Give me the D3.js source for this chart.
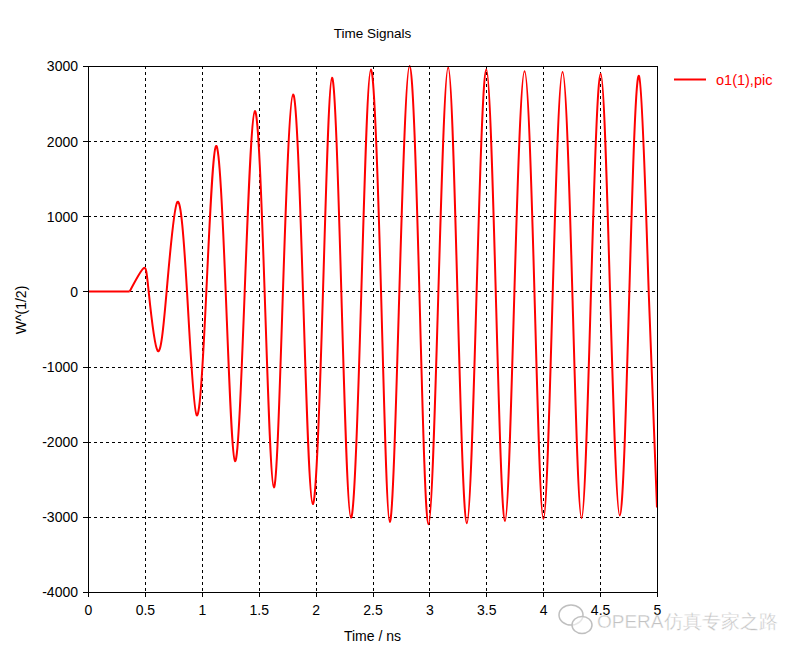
<!DOCTYPE html>
<html>
<head>
<meta charset="utf-8">
<script src="https://cdn.jsdelivr.net/npm/d3@7"></script>
<style>
  html, body { margin: 0; padding: 0; background: #ffffff; }
  svg { display: block; }
  text { font-family: "Liberation Sans", Arial, sans-serif; }
</style>
</head>
<body>
<script>
// ---------------- data ----------------
const title = "Time Signals";
const xLabel = "Time / ns";
const yLabel = "W^(1/2)";
const seriesName = "o1(1),pic";

const xTicks = [0, 0.5, 1, 1.5, 2, 2.5, 3, 3.5, 4, 4.5, 5];
const xTickLabels = ["0", "0.5", "1", "1.5", "2", "2.5", "3", "3.5", "4", "4.5", "5"];
const yTicks = [-4000, -3000, -2000, -1000, 0, 1000, 2000, 3000];
const yTickLabels = ["-4000", "-3000", "-2000", "-1000", "0", "1000", "2000", "3000"];

// time (ns) of the flat start, extrema and zero crossings
const timeNs = [
  0, 0.366,
  0.486, 0.533, 0.612, 0.691, 0.785, 0.870, 0.955, 1.040,
  1.125, 1.210, 1.292, 1.377, 1.466, 1.552, 1.633, 1.713,
  1.802, 1.889, 1.975, 2.065, 2.144, 2.226, 2.311, 2.402,
  2.486, 2.575, 2.652, 2.736, 2.826, 2.912, 2.992, 3.079,
  3.165, 3.246, 3.329, 3.415, 3.500, 3.583, 3.664, 3.747,
  3.836, 3.923, 4.002, 4.084, 4.170, 4.256, 4.337, 4.420,
  4.505, 4.587, 4.673, 4.757, 4.842, 4.927, 5.0
];
// signal value W^(1/2)
const signal = [
  0, 0,
  306, 0, -790, 0, 1190, 0, -1648, 0,
  1935, 0, -2258, 0, 2400, 0, -2608, 0,
  2622, 0, -2830, 0, 2845, 0, -3012, 0,
  2955, 0, -3070, 0, 3000, 0, -3100, 0,
  2980, 0, -3085, 0, 2955, 0, -3057, 0,
  2930, 0, -3030, 0, 2920, 0, -3017, 0,
  2898, 0, -2982, 0, 2867, 0, -2876
];
const onsetIndex = 1; // end of the flat baseline

// ---------------- layout ----------------
const W = 806, H = 653;
const plot = { left: 88, right: 657, top: 66, bottom: 592 };

const svg = d3.select("body").append("svg")
  .attr("width", W).attr("height", H)
  .attr("viewBox", `0 0 ${W} ${H}`);

const x = d3.scaleLinear().domain([0, 5]).range([plot.left, plot.right]);
const y = d3.scaleLinear().domain([-4000, 3000]).range([plot.bottom, plot.top]);

// ---------------- grid ----------------
const grid = svg.append("g").attr("shape-rendering", "crispEdges");
grid.selectAll("line.gx").data(xTicks.filter(d => d > 0 && d < 5)).enter()
  .append("line")
  .attr("x1", d => Math.round(x(d)) + 0.5).attr("x2", d => Math.round(x(d)) + 0.5)
  .attr("y1", plot.top).attr("y2", plot.bottom)
  .attr("stroke", "#000").attr("stroke-width", 1).attr("stroke-dasharray", "3,3");
grid.selectAll("line.gy").data(yTicks.filter(d => d > -4000 && d < 3000)).enter()
  .append("line")
  .attr("y1", d => Math.round(y(d)) + 0.5).attr("y2", d => Math.round(y(d)) + 0.5)
  .attr("x1", plot.left).attr("x2", plot.right)
  .attr("stroke", "#000").attr("stroke-width", 1).attr("stroke-dasharray", "3,3");

// ---------------- series ----------------
svg.append("clipPath").attr("id", "clip").append("rect")
  .attr("x", plot.left).attr("y", plot.top - 2)
  .attr("width", plot.right - plot.left + 1).attr("height", plot.bottom - plot.top + 4);

const pts = timeNs.map((t, i) => [t, signal[i]]);
const flatPts = pts.slice(0, onsetIndex + 1);
const wavePts = pts.slice(onsetIndex);

const lineLinear = d3.line().x(d => x(d[0])).y(d => y(d[1]));
const lineWave = d3.line().x(d => x(d[0])).y(d => y(d[1])).curve(d3.curveNatural);

const series = svg.append("g").attr("clip-path", "url(#clip)");
series.append("path").attr("d", lineLinear(flatPts))
  .attr("fill", "none").attr("stroke", "#ff0000").attr("stroke-width", 2);
series.append("path").attr("d", lineWave(wavePts))
  .attr("fill", "none").attr("stroke", "#ff0000").attr("stroke-width", 2)
  .attr("stroke-linejoin", "round");

// ---------------- axes & frame ----------------
const xAxis = d3.axisBottom(x).tickValues(xTicks)
  .tickFormat((d, i) => xTickLabels[i]).tickSizeInner(5).tickSizeOuter(0).tickPadding(8);
const yAxis = d3.axisLeft(y).tickValues(yTicks)
  .tickFormat((d, i) => yTickLabels[i]).tickSizeInner(5).tickSizeOuter(0).tickPadding(5);

const gx = svg.append("g").attr("transform", `translate(0,${plot.bottom})`).call(xAxis);
const gy = svg.append("g").attr("transform", `translate(${plot.left},0)`).call(yAxis);
[gx, gy].forEach(g => {
  g.selectAll("text").attr("font-family", "Liberation Sans, Arial, sans-serif")
    .attr("font-size", 14).attr("fill", "#000");
  g.selectAll("line").attr("stroke", "#000").attr("shape-rendering", "crispEdges");
  g.select(".domain").attr("stroke", "#000").attr("shape-rendering", "crispEdges");
});
gy.selectAll(".tick text").attr("dy", "0.35em");

svg.append("rect")
  .attr("x", plot.left).attr("y", plot.top)
  .attr("width", plot.right - plot.left).attr("height", plot.bottom - plot.top)
  .attr("fill", "none").attr("stroke", "#000").attr("stroke-width", 1)
  .attr("shape-rendering", "crispEdges");

// ---------------- titles ----------------
svg.append("text").attr("x", (plot.left + plot.right) / 2).attr("y", 38)
  .attr("text-anchor", "middle").attr("font-size", 13.5).attr("fill", "#000").text(title);

svg.append("text").attr("x", (plot.left + plot.right) / 2).attr("y", 641)
  .attr("text-anchor", "middle").attr("font-size", 14).attr("fill", "#000").text(xLabel);

svg.append("text").attr("transform", "translate(26,310) rotate(-90)")
  .attr("text-anchor", "middle").attr("font-size", 14).attr("fill", "#000").text(yLabel);

// ---------------- legend ----------------
const lg = svg.append("g");
lg.append("line").attr("x1", 674).attr("x2", 706).attr("y1", 79.5).attr("y2", 79.5)
  .attr("stroke", "#ff0000").attr("stroke-width", 2);
lg.append("text").attr("x", 716).attr("y", 85).attr("font-size", 14.5)
  .attr("fill", "#ff0000").text(seriesName);

// ---------------- watermark ----------------
const wm = svg.append("g").attr("opacity", 0.85);
wm.append("ellipse").attr("cx", 571).attr("cy", 615).attr("rx", 12).attr("ry", 10)
  .attr("fill", "rgba(255,255,255,0.6)").attr("stroke", "#b5b5b5").attr("stroke-width", 1.5);
wm.append("ellipse").attr("cx", 582).attr("cy", 625).attr("rx", 10).attr("ry", 8.5)
  .attr("fill", "rgba(255,255,255,0.6)").attr("stroke", "#b5b5b5").attr("stroke-width", 1.5);
wm.append("text").attr("x", 597).attr("y", 628)
  .attr("font-family", "Noto Sans CJK SC, sans-serif").attr("font-size", 19)
  .attr("fill", "#b8b8b8").attr("stroke", "#ffffff").attr("stroke-width", 0.4)
  .text("OPERA仿真专家之路");
</script>
</body>
</html>
